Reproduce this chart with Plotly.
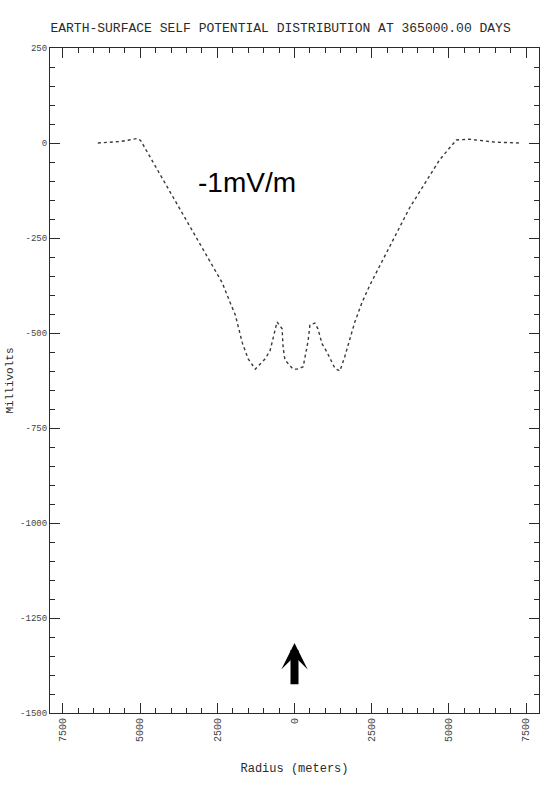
import plotly.graph_objects as go

radius_m = [-6370, -5630, -5080, -4980, -4000, -3000, -2340, -2080, -1920, -1690, -1500,
            -1270, -950, -790, -565, -400, -370, -310, -50, 80, 280, 440, 500, 660,
            760, 890, 1050, 1310, 1470, 1630, 1790, 1950, 2180, 2440, 3726, 4371,
            4694, 5242, 5660, 6530, 7340]
potential_mv = [0, 4, 12, 6, -133, -274, -368, -421, -452, -526, -568,
                -595, -568, -546, -471, -489, -537, -571, -595, -595, -589, -521, -479, -474,
                -489, -528, -550, -593, -600, -562, -515, -472, -421, -374, -171, -89,
                -45, 8, 10, 2, 0]

y_ticks = [250, 0, -250, -500, -750, -1000, -1250, -1500]
y_ticklabels = ["250", "0", "-250", "-500", "-750", "-1000", "-1250", "-1500"]
x_ticks = [-7500, -5000, -2500, 0, 2500, 5000, 7500]
x_ticklabels = ["7500", "5000", "2500", "0", "2500", "5000", "7500"]

ink = "#2a2a2a"
mono = "Liberation Mono, DejaVu Sans Mono, monospace"

fig = go.Figure()
fig.add_trace(go.Scatter(
    x=radius_m, y=potential_mv, mode="lines",
    line=dict(color="#3a3a3a", width=1.4, dash="dot"),
    hoverinfo="skip", showlegend=False,
))

fig.update_layout(
    width=548, height=797,
    margin=dict(l=49, r=8, t=48, b=84),
    paper_bgcolor="white", plot_bgcolor="white",
    title=dict(
        text="EARTH-SURFACE SELF POTENTIAL DISTRIBUTION AT 365000.00 DAYS",
        x=0.512, xanchor="center", y=1 - 27 / 797, yanchor="middle",
        font=dict(family=mono, size=13, color=ink),
    ),
    xaxis=dict(
        range=[-7920, 7920], tickvals=x_ticks, ticktext=x_ticklabels,
        tickangle=-90, ticks="inside", ticklen=10, tickwidth=1.2, tickcolor=ink,
        showline=True, linecolor=ink, linewidth=1.2, mirror="ticks",
        showgrid=False, zeroline=False,
        tickfont=dict(family=mono, size=10, color="#444"),
        minor=dict(dtick=500, tick0=0, ticks="inside", ticklen=5, tickcolor=ink, tickwidth=1),
        title=dict(text="Radius (meters)", font=dict(family=mono, size=12, color=ink), standoff=22),
    ),
    yaxis=dict(
        range=[-1500, 250], tickvals=y_ticks, ticktext=y_ticklabels,
        ticks="inside", ticklen=10, tickwidth=1.2, tickcolor=ink,
        showline=True, linecolor=ink, linewidth=1.2, mirror="ticks",
        showgrid=False, zeroline=False,
        tickfont=dict(family=mono, size=9, color="#444"),
        minor=dict(dtick=50, tick0=0, ticks="inside", ticklen=5, tickcolor=ink, tickwidth=1),
        title=dict(text="Millivolts", font=dict(family=mono, size=11, color=ink), standoff=4),
    ),
    annotations=[
        dict(x=-1550, y=-105, xref="x", yref="y", text="-1mV/m", showarrow=False,
             font=dict(family="Liberation Sans, Arial, sans-serif", size=28, color="black"),
             xanchor="center", yanchor="middle"),
        dict(x=0, y=-1316, xref="x", yref="y", ax=0, ay=-1428, axref="x", ayref="y",
             text="", showarrow=True, arrowhead=3, arrowwidth=8, arrowsize=0.55,
             arrowcolor="black"),
    ],
)

fig.write_html("out.html")
